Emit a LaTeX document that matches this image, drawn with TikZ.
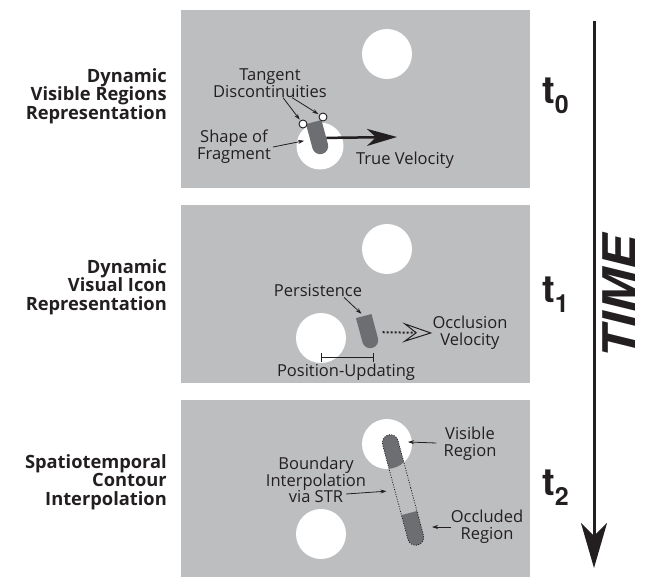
\documentclass[tikz,border=0pt]{standalone}
\usepackage{fontspec}
\setmainfont{Open Sans}
\newfontfamily\heros{TeX Gyre Heros}
\usetikzlibrary{arrows.meta, shapes.misc}
\definecolor{panelgray}{HTML}{BDBEC0}
\definecolor{fraggray}{HTML}{6D6E71}
\definecolor{inkblack}{HTML}{231F20}

\begin{document}
\begin{tikzpicture}[
  x=1pt, y=-1pt,
  hole/.style={circle, fill=white, inner sep=0pt, minimum size=#1},
  hole/.default=50pt,
  frag/.style={rounded rectangle, rounded rectangle west arc=none,
    fill=fraggray, inner sep=0pt, minimum width=33pt, minimum height=16pt,
    rotate=-75},
  trail/.style={rounded rectangle, inner sep=0pt, minimum width=114pt,
    minimum height=16pt, rotate=-75},
  lbl/.style={font=\fontsize{16.5}{16.8}\selectfont, text=inkblack,
    align=center, inner sep=0pt},
  side/.style={font=\fontsize{18.3}{18.6}\selectfont\bfseries, text=inkblack,
    align=right, anchor=east, inner sep=0pt},
  tlbl/.style={font=\heros\bfseries\fontsize{38}{38}\selectfont, text=inkblack,
    anchor=base west, inner sep=0pt},
  tdisc/.style={circle, draw=inkblack, line width=0.9pt, fill=white,
    inner sep=0pt, minimum size=8pt},
  annot/.style={-{Stealth[length=6pt, width=4pt]}, line width=0.8pt, inkblack},
  velo/.style={-{Stealth[length=30pt, width=17pt, inset=9pt]},
    line width=2.5pt, inkblack},
  occ/.style={-{Stealth[open, length=30pt, width=20pt, inset=13pt, line width=1pt]},
    line width=2pt, dash pattern=on 2pt off 2pt, inkblack},
  timearr/.style={-{Stealth[length=45pt, width=26pt, inset=13pt]},
    line width=3pt, inkblack},
]
\useasboundingbox (0,0) rectangle (646,578);

% Panels
\fill[panelgray] (181,10) rectangle (530,188);
\fill[panelgray] (181,205) rectangle (530,383);
\fill[panelgray] (181,400) rectangle (530,577);

% Row labels
\node[side] (lab0) at (167,96) {Dynamic\\Visible Regions\\Representation};
\node[side] (lab1) at (167,287) {Dynamic\\Visual Icon\\Representation};
\node[side] (lab2) at (167,482) {Spatiotemporal\\Contour\\Interpolation};

% === t0: dynamic visible regions ===
\node[hole] (h0a) at (387,54) {};
\node[hole=47pt] (h0b) at (320,146) {};
\node[frag] (frag0) at (318,138) {};
\node[tdisc] (tdl) at (303,124) {};
\node[tdisc] (tdr) at (323,117) {};

\node[lbl] (tangent) at (270,83) {Tangent\\Discontinuities};
\draw[annot, shorten >=1pt] ([xshift=13pt]tangent.south) -- (tdl);
\draw[annot, shorten >=1pt] ([xshift=22pt]tangent.south) -- (tdr);

\node[lbl] (shape) at (234,147) {Shape of\\Fragment};
\draw[annot, shorten >=6pt] ([xshift=2pt]shape.east) -- (frag0);

\coordinate (tv0) at (397,137);
\draw[velo] (frag0) -- (tv0);
\node[lbl] (truev) at (405,160) {True Velocity};

% === t1: dynamic visual icon ===
\node[hole] (h1a) at (387,249) {};
\node[hole] (h1b) at (321,338) {};
\node[frag] (frag1) at (368,332) {};

\node[lbl] (persist) at (318,291) {Persistence};
\draw[annot, shorten >=3pt] ([xshift=26pt]persist.south) -- (frag1.west);

\node[lbl] (occv) at (470,333) {Occlusion\\Velocity};
\draw[occ, shorten <=6pt] (frag1) -- (occv.west);

\coordinate (pu0) at (321,357);
\coordinate (pu1) at (374,357);
\draw[{Bar[width=9pt]}-{Bar[width=9pt]}, line width=1pt, inkblack] (pu0) -- (pu1);
\node[lbl] (posupd) at (346,372) {Position-Updating};

% === t2: spatiotemporal contour interpolation ===
\node[hole] (h2a) at (387,444) {};
\node[hole] (h2b) at (321,534) {};
\begin{scope}
  \clip (387,444) circle[radius=25pt];
  \node[trail, fill=fraggray] (trailtop) at (403,490) {};
\end{scope}
\node[frag] (frag2) at (413.5,529) {};
\node[trail, draw=inkblack, line width=0.8pt, dash pattern=on 1pt off 1.5pt]
  (trail) at (403,490) {};

\node[lbl] (visreg) at (470,444) {Visible\\Region};
\coordinate (vistip) at (408,442);
\draw[annot] ([xshift=-7pt, yshift=1pt]visreg.west) -- (vistip);

\node[lbl] (occreg) at (487,527) {Occluded\\Region};
\coordinate (occtip) at (432,527);
\draw[annot] (occreg.west) -- (occtip);

\node[lbl] (bound) at (316,480) {Boundary\\Interpolation\\via STR};
\draw[annot, shorten >=8pt] ([xshift=-20pt, yshift=-14pt]bound.east) -- (trail);

% === Time axis ===
\coordinate (tstart) at (594,21);
\coordinate (tend) at (594,568);
\draw[timearr] (tstart) -- (tend);
\node[font=\heros\bfseries\itshape\fontsize{45}{45}\selectfont, text=inkblack,
  rotate=90, inner sep=0pt] (time) at (619,297) {\scalebox{1.15}[1]{TIME}};

\node[tlbl] (t0) at (542,103) {t\raisebox{-10pt}{\fontsize{25}{25}\selectfont 0}};
\node[tlbl] (t1) at (542,302) {t\raisebox{-10pt}{\fontsize{25}{25}\selectfont 1}};
\node[tlbl] (t2) at (542,495) {t\raisebox{-10pt}{\fontsize{25}{25}\selectfont 2}};

\end{tikzpicture}
\end{document}
